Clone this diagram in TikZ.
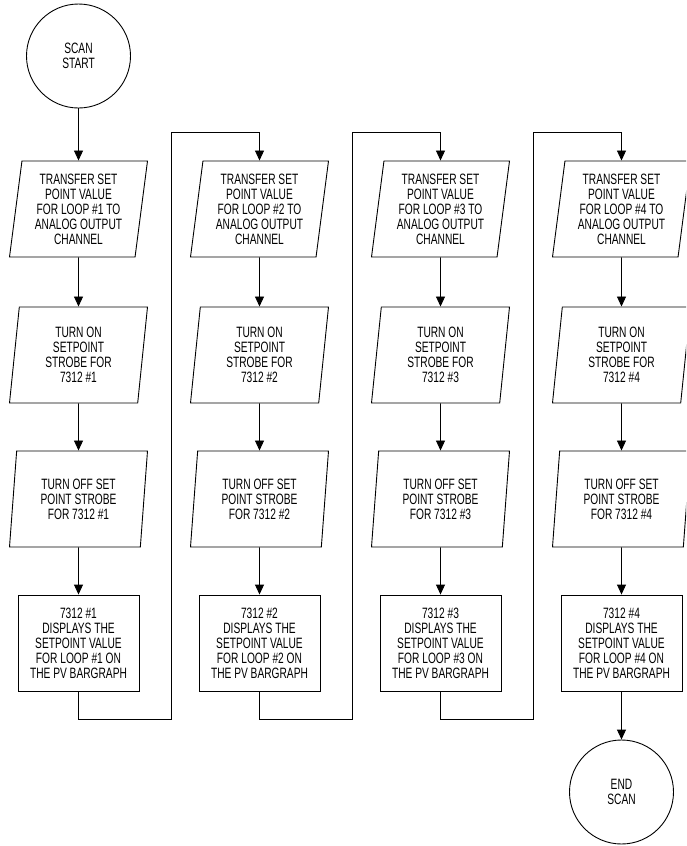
\documentclass[tikz,border=0pt]{standalone}
\usepackage{fontspec}
\setmainfont{Liberation Sans}[FakeStretch=0.68]
\usetikzlibrary{shapes.geometric,arrows.meta}
\tikzset{
  base/.style={draw, line width=0.9pt, align=center, font=\fontsize{15}{15}\selectfont, inner sep=0pt},
  io/.style={base, trapezium, trapezium left angle=80, trapezium right angle=100,
    trapezium stretches body=true, minimum width=138pt, minimum height=96pt},
  proc/.style={base, rectangle, minimum width=121pt, minimum height=96pt},
  term/.style={base, circle, minimum size=104pt},
  arr/.style={line width=0.9pt, -{Triangle[length=10pt,width=9pt]}},
}
\begin{document}
\begin{tikzpicture}[x=1pt,y=-1pt]
\useasboundingbox (0,0) rectangle (686,846);
\clip (0,0) rectangle (686,846);
\node[term] (start) at (78.5,56) {SCAN\\START};
% column 1
\node[io] (p11) at (78.5,209) {TRANSFER SET\\POINT VALUE\\FOR LOOP \#1 TO\\ANALOG OUTPUT\\CHANNEL};
\node[io] (p12) at (78.5,355) {TURN ON\\SETPOINT\\STROBE FOR\\7312 \#1};
\node[io] (p13) at (78.5,499) {TURN OFF SET\\POINT STROBE\\FOR 7312 \#1};
\node[proc] (r1) at (78.5,643) {7312 \#1\\DISPLAYS THE\\SETPOINT VALUE\\FOR LOOP \#1 ON\\THE PV BARGRAPH};
% column 2
\node[io] (p21) at (259.5,209) {TRANSFER SET\\POINT VALUE\\FOR LOOP \#2 TO\\ANALOG OUTPUT\\CHANNEL};
\node[io] (p22) at (259.5,355) {TURN ON\\SETPOINT\\STROBE FOR\\7312 \#2};
\node[io] (p23) at (259.5,499) {TURN OFF SET\\POINT STROBE\\FOR 7312 \#2};
\node[proc] (r2) at (259.5,643) {7312 \#2\\DISPLAYS THE\\SETPOINT VALUE\\FOR LOOP \#2 ON\\THE PV BARGRAPH};
% column 3
\node[io] (p31) at (440.5,209) {TRANSFER SET\\POINT VALUE\\FOR LOOP \#3 TO\\ANALOG OUTPUT\\CHANNEL};
\node[io] (p32) at (440.5,355) {TURN ON\\SETPOINT\\STROBE FOR\\7312 \#3};
\node[io] (p33) at (440.5,499) {TURN OFF SET\\POINT STROBE\\FOR 7312 \#3};
\node[proc] (r3) at (440.5,643) {7312 \#3\\DISPLAYS THE\\SETPOINT VALUE\\FOR LOOP \#3 ON\\THE PV BARGRAPH};
% column 4
\node[io] (p41) at (621.5,209) {TRANSFER SET\\POINT VALUE\\FOR LOOP \#4 TO\\ANALOG OUTPUT\\CHANNEL};
\node[io] (p42) at (621.5,355) {TURN ON\\SETPOINT\\STROBE FOR\\7312 \#4};
\node[io] (p43) at (621.5,499) {TURN OFF SET\\POINT STROBE\\FOR 7312 \#4};
\node[proc] (r4) at (621.5,643) {7312 \#4\\DISPLAYS THE\\SETPOINT VALUE\\FOR LOOP \#4 ON\\THE PV BARGRAPH};
\node[term] (end) at (621.5,792) {END\\SCAN};
% return path coordinates
\coordinate (b1) at (171,719);  \coordinate (t1) at (171,132);
\coordinate (b2) at (352,719);  \coordinate (t2) at (352,132);
\coordinate (b3) at (533,719);  \coordinate (t3) at (533,132);
% connectors
\draw[arr] (start) -- (p11);
\foreach \c in {1,2,3,4}{
  \draw[arr] (p\c1) -- (p\c2);
  \draw[arr] (p\c2) -- (p\c3);
  \draw[arr] (p\c3) -- (r\c);
}
\draw[arr] (r1) |- (b1) -- (t1) -| (p21);
\draw[arr] (r2) |- (b2) -- (t2) -| (p31);
\draw[arr] (r3) |- (b3) -- (t3) -| (p41);
\draw[arr] (r4) -- (end);
\end{tikzpicture}
\end{document}
